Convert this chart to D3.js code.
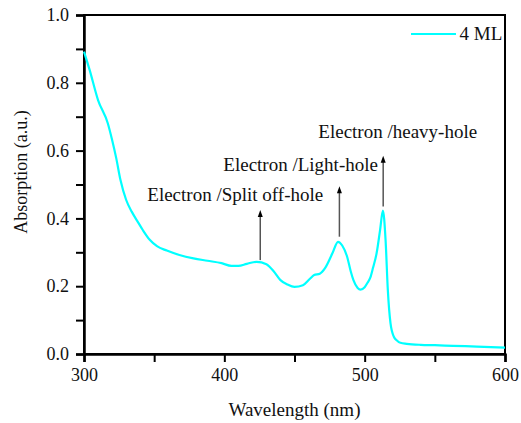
<!DOCTYPE html>
<html>
<head>
<meta charset="utf-8">
<script src="https://cdn.jsdelivr.net/npm/d3@7"></script>
<style>
  body { margin: 0; background: #fff; }
  svg text { font-family: "Liberation Serif", "DejaVu Serif", serif; fill: #111; }
</style>
</head>
<body>
<div id="chart"></div>
<script>
// absorption spectrum, values
var wavelength = [300, 304, 310, 317, 320, 323, 326, 330, 334, 338, 342, 347, 352, 359, 368, 378, 388, 398, 405,
                  410, 416, 423, 430, 435, 440, 445, 450, 456, 461, 464, 468, 472, 477, 481, 484, 487.5, 490, 492, 495,
                  497, 500, 502, 504, 506, 508.5, 511, 513, 514.9, 516.5, 518.4, 520.8, 523, 525.5, 530, 540, 550, 563, 580, 600];
var absorption = [0.892, 0.838, 0.749, 0.680, 0.632, 0.577, 0.513, 0.455, 0.420, 0.392, 0.365, 0.336, 0.318, 0.305, 0.292, 0.282, 0.275, 0.268, 0.260,
                  0.260, 0.266, 0.272, 0.265, 0.245, 0.218, 0.205, 0.198, 0.203, 0.222, 0.233, 0.237, 0.255, 0.297, 0.331, 0.320, 0.287, 0.245, 0.218, 0.195,
                  0.190, 0.197, 0.210, 0.225, 0.255, 0.297, 0.366, 0.423, 0.336, 0.189, 0.091, 0.051, 0.040, 0.033, 0.030, 0.027, 0.026, 0.024, 0.022, 0.019];

var xTicks = [300, 400, 500, 600];
var xMinor = [350, 450, 550];
var yTicks = [0, 0.2, 0.4, 0.6, 0.8, 1.0];
var yMinor = [0.1, 0.3, 0.5, 0.7, 0.9];

// arrows: wavelength, tail value, head value; peak labels
var arrowX = [425.6, 482, 513.2];
var arrowFrom = [0.277, 0.346, 0.435];
var arrowTo = [0.425, 0.495, 0.585];
var labels = ["Electron /Split off-hole", "Electron /Light-hole", "Electron /heavy-hole"];
var labelX = [345.1, 399.3, 467];
var labelY = [0.452, 0.541, 0.638];

var seriesName = "4 ML";

var W = 521, H = 423;
var margin = {top: 15, right: 16, bottom: 69, left: 84};
var w = W - margin.left - margin.right, h = H - margin.top - margin.bottom;
var FONT = "Liberation Serif";

var svg = d3.select("#chart").append("svg").attr("width", W).attr("height", H);
var g = svg.append("g").attr("transform", "translate(" + margin.left + "," + margin.top + ")");

var x = d3.scaleLinear().domain([300, 600]).range([0, w]);
var y = d3.scaleLinear().domain([0, 1]).range([h, 0]);

// frame
g.append("rect").attr("width", w).attr("height", h).attr("fill", "none")
    .attr("stroke", "#000").attr("stroke-width", 2);

g.append("g").attr("transform", "translate(0," + h + ")")
    .call(d3.axisBottom(x).tickValues(xTicks).tickSize(8).tickPadding(6).tickFormat(d3.format("d")));
g.append("g").attr("transform", "translate(0," + h + ")")
    .call(d3.axisBottom(x).tickValues(xMinor).tickSize(8).tickFormat(""));
g.append("g")
    .call(d3.axisLeft(y).tickValues(yTicks).tickSize(8).tickPadding(7).tickFormat(d3.format(".1f")));
g.append("g")
    .call(d3.axisLeft(y).tickValues(yMinor).tickSize(8).tickFormat(""));

g.selectAll("g").attr("font-family", FONT).attr("font-size", 18);
g.selectAll(".domain").attr("stroke", "#000").attr("stroke-width", 2);
g.selectAll(".tick line").attr("stroke", "#000").attr("stroke-width", 2);
g.selectAll(".tick text").attr("fill", "#111");

// curve
var pts = wavelength.map(function (d, i) { return [d, absorption[i]]; });
var line = d3.line().x(function (d) { return x(d[0]); }).y(function (d) { return y(d[1]); })
    .curve(d3.curveMonotoneX);
g.append("path").datum(pts).attr("d", line).attr("fill", "none")
    .attr("stroke", "#00ffff").attr("stroke-width", 2.2);

// arrows
arrowX.forEach(function (a, i) {
  g.append("line").attr("x1", x(a)).attr("x2", x(a))
      .attr("y1", y(arrowFrom[i])).attr("y2", y(arrowTo[i]) + 6)
      .attr("stroke", "#555").attr("stroke-width", 1.5);
  g.append("path")
      .attr("d", "M" + (x(a) - 2.5) + "," + (y(arrowTo[i]) + 7) + " L" + x(a) + "," + y(arrowTo[i]) +
                 " L" + (x(a) + 2.5) + "," + (y(arrowTo[i]) + 7) + " Z")
      .attr("fill", "#000");
});

labels.forEach(function (t, i) {
  g.append("text").attr("x", x(labelX[i])).attr("y", y(labelY[i]))
      .attr("font-family", FONT).attr("font-size", 19).text(t);
});

// legend
g.append("line").attr("x1", w - 94).attr("x2", w - 49).attr("y1", 19).attr("y2", 19)
    .attr("stroke", "#00ffff").attr("stroke-width", 2.2);
g.append("text").attr("x", w - 45.5).attr("y", 25).attr("font-family", FONT).attr("font-size", 19).text(seriesName);

// axis titles
svg.append("text").attr("x", margin.left + w / 2).attr("y", 416).attr("text-anchor", "middle")
    .attr("font-family", FONT).attr("font-size", 19).text("Wavelength (nm)");
svg.append("text").attr("transform", "translate(26.5,172) rotate(-90)").attr("text-anchor", "middle")
    .attr("font-family", FONT).attr("font-size", 18).text("Absorption (a.u.)");
</script>
</body>
</html>
